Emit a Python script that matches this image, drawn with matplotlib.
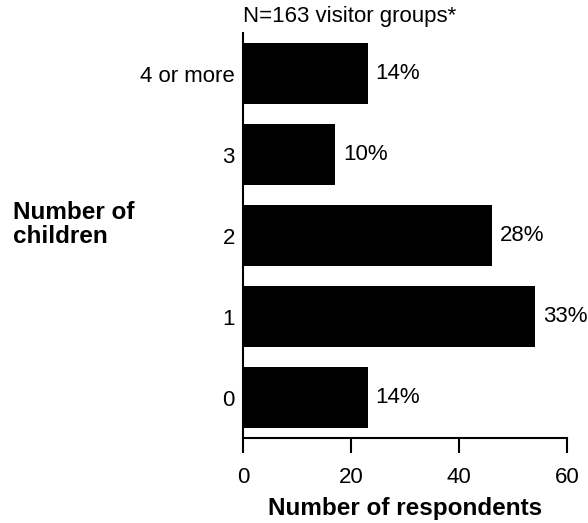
import matplotlib
matplotlib.use("Agg")
import matplotlib.pyplot as plt

categories = ["0", "1", "2", "3", "4 or more"]
counts = [23, 54, 46, 17, 23]
percents = ["14%", "33%", "28%", "10%", "14%"]
xticks = [0, 20, 40, 60]

plt.rcParams['font.family'] = ['Liberation Sans', 'DejaVu Sans']

fig = plt.figure(figsize=(5.88, 5.23), dpi=100)
ax = fig.add_axes([0.4138, 0.1625, 0.551, 0.7744])

ypos = list(range(len(categories)))
ax.barh(ypos, counts, height=0.76, color='black')
for y, c, p in zip(ypos, counts, percents):
    ax.text(c + 1.5, y, p, va='center', ha='left', fontsize=16)

ax.set_xlim(0, 60)
ax.set_ylim(-0.5, 4.5)
ax.set_yticks(ypos)
ax.set_yticklabels(categories, fontsize=16)
ax.tick_params(axis='y', length=0, pad=6)
ax.set_xticks(xticks)
ax.set_xticklabels([str(t) for t in xticks], fontsize=16)
ax.tick_params(axis='x', length=11, width=1.5, pad=10)
for s in ['top', 'right']:
    ax.spines[s].set_visible(False)
ax.spines['left'].set_linewidth(1.5)
ax.spines['bottom'].set_linewidth(1.5)

ax.set_xlabel("Number of respondents", fontsize=17.5, fontweight='bold', labelpad=6)
fig.text(0.022, 0.571, "Number of\nchildren", fontsize=17.5, fontweight='bold',
         ha='left', va='center', linespacing=1.05)
fig.text(0.4138, 0.968, "N=163 visitor groups*", fontsize=16, ha='left', va='center')

fig.savefig("out.png", dpi=100)
